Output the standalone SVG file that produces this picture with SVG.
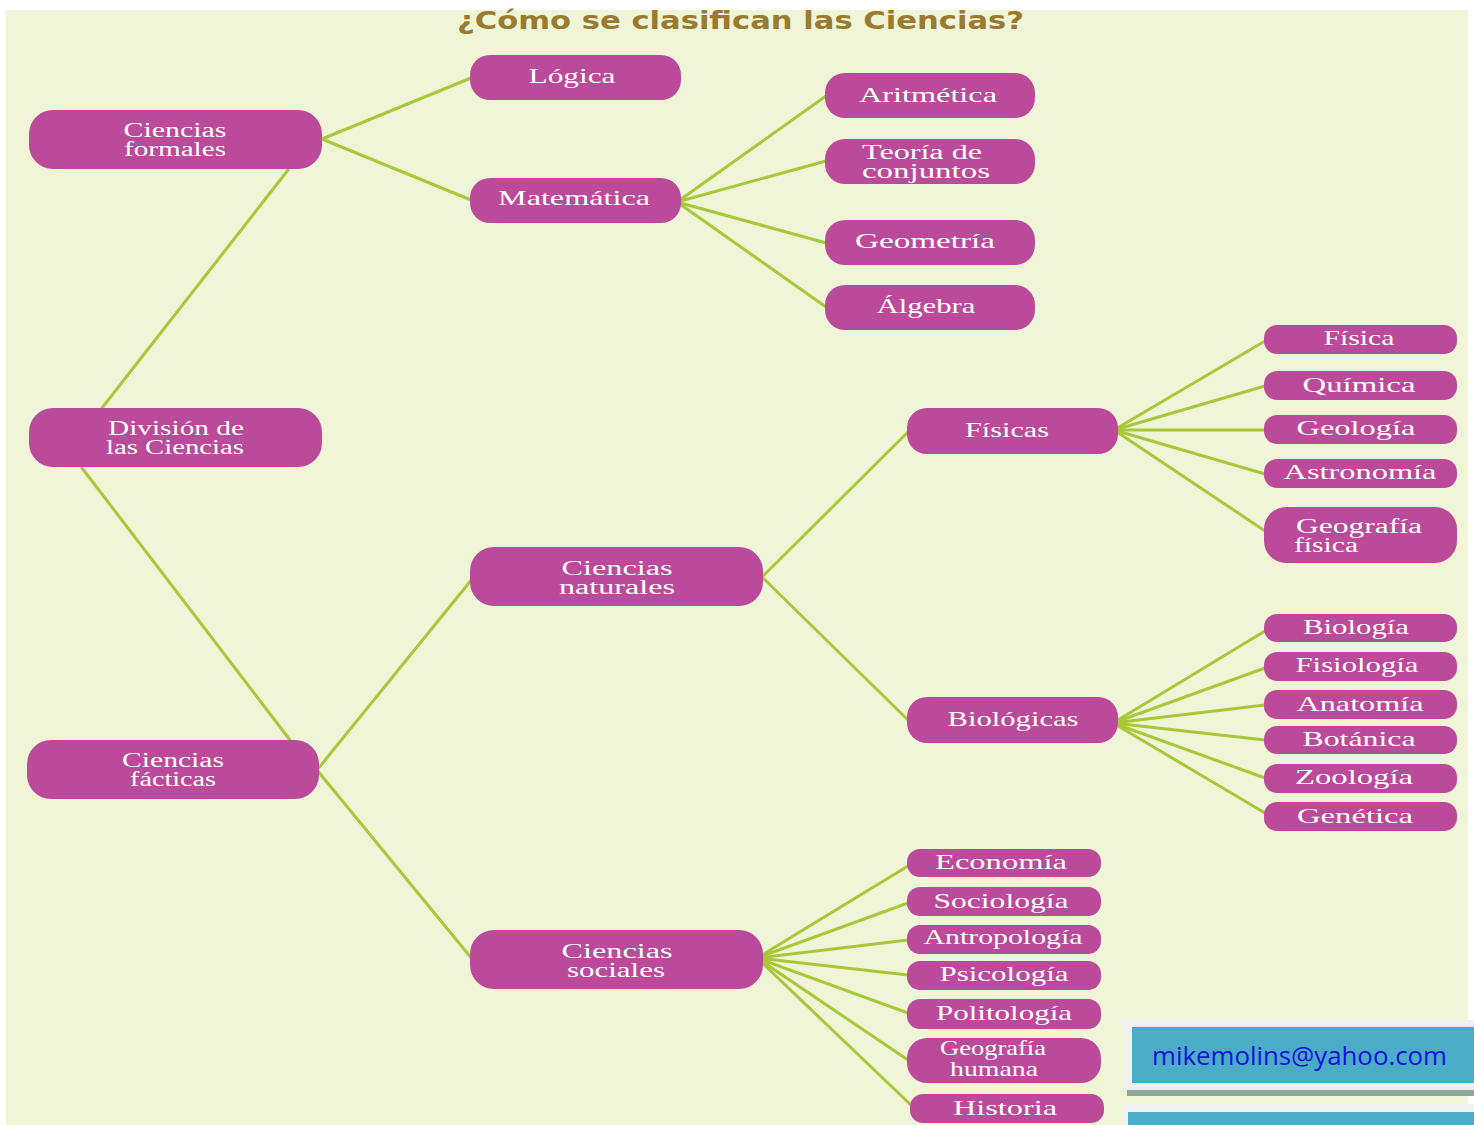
<svg xmlns="http://www.w3.org/2000/svg" width="1474" height="1125" viewBox="0 0 1474 1125">
<style>
.n{fill:#BC4A9B}
.t{fill:#FFFFFF;font-family:"Liberation Serif","DejaVu Serif",serif;font-size:22px;text-anchor:middle}
.d{font-size:20px}
.s{text-anchor:start}
.c line{stroke:#A8C83A;stroke-width:3;stroke-linecap:round}
.title{fill:#9A7A2E;font-family:"DejaVu Sans","Liberation Sans",sans-serif;font-weight:bold;font-size:24px}
</style>
<rect width="1474" height="1125" fill="#FFFFFF"/>
<rect x="6" y="10" width="1462" height="1115" fill="#EFF5D6"/>
<text class="title" x="457" y="29" textLength="567" lengthAdjust="spacingAndGlyphs">¿Cómo se clasifican las Ciencias?</text>
<g id="connectors" class="c">
<line x1="322" y1="139" x2="471" y2="78"/>
<line x1="322" y1="139" x2="471" y2="200"/>
<line x1="288" y1="170" x2="102" y2="408"/>
<line x1="82" y1="468" x2="290" y2="740"/>
<line x1="677" y1="202" x2="826" y2="96"/>
<line x1="677" y1="202" x2="826" y2="161"/>
<line x1="677" y1="202" x2="830" y2="244"/>
<line x1="677" y1="202" x2="826" y2="307"/>
<line x1="317" y1="770" x2="477" y2="573"/>
<line x1="317" y1="770" x2="477" y2="965"/>
<line x1="762" y1="577" x2="908" y2="432"/>
<line x1="762" y1="577" x2="908" y2="720"/>
<line x1="1114" y1="430" x2="1265" y2="341"/>
<line x1="1114" y1="430" x2="1265" y2="386"/>
<line x1="1114" y1="430" x2="1265" y2="430"/>
<line x1="1114" y1="430" x2="1265" y2="474"/>
<line x1="1114" y1="430" x2="1265" y2="531"/>
<line x1="1113" y1="723" x2="1265" y2="631"/>
<line x1="1113" y1="723" x2="1265" y2="668"/>
<line x1="1113" y1="723" x2="1265" y2="705"/>
<line x1="1113" y1="723" x2="1265" y2="740"/>
<line x1="1113" y1="723" x2="1265" y2="778"/>
<line x1="1113" y1="723" x2="1265" y2="813"/>
<line x1="757" y1="958" x2="908" y2="866"/>
<line x1="757" y1="958" x2="908" y2="903"/>
<line x1="757" y1="958" x2="908" y2="940"/>
<line x1="757" y1="958" x2="908" y2="975"/>
<line x1="757" y1="958" x2="908" y2="1013"/>
<line x1="757" y1="958" x2="908" y2="1060"/>
<line x1="757" y1="958" x2="912" y2="1106"/>
</g>
<g id="n-formales"><rect class="n" x="29" y="110" width="293" height="59" rx="24"/><text class="t d" x="175" y="137" textLength="103" lengthAdjust="spacingAndGlyphs">Ciencias</text><text class="t d" x="175" y="156" textLength="102" lengthAdjust="spacingAndGlyphs">formales</text></g>
<g id="n-division"><rect class="n" x="29" y="408" width="293" height="59" rx="24"/><text class="t d" x="176" y="435" textLength="136" lengthAdjust="spacingAndGlyphs">División de</text><text class="t d" x="175" y="454" textLength="138" lengthAdjust="spacingAndGlyphs">las Ciencias</text></g>
<g id="n-facticas"><rect class="n" x="27" y="740" width="292" height="59" rx="24"/><text class="t d" x="173" y="767" textLength="102" lengthAdjust="spacingAndGlyphs">Ciencias</text><text class="t d" x="173" y="786" textLength="86" lengthAdjust="spacingAndGlyphs">fácticas</text></g>
<g id="n-logica"><rect class="n" x="470" y="55" width="211" height="45" rx="20"/><text class="t" x="572" y="83" textLength="87" lengthAdjust="spacingAndGlyphs">Lógica</text></g>
<g id="n-matematica"><rect class="n" x="470" y="178" width="211" height="45" rx="20"/><text class="t" x="574" y="205" textLength="152" lengthAdjust="spacingAndGlyphs">Matemática</text></g>
<g id="n-aritmetica"><rect class="n" x="825" y="73" width="210" height="45" rx="20"/><text class="t" x="928" y="102" textLength="138" lengthAdjust="spacingAndGlyphs">Aritmética</text></g>
<g id="n-conjuntos"><rect class="n" x="825" y="139" width="210" height="45" rx="20"/><text class="t s d" x="862" y="159" textLength="120" lengthAdjust="spacingAndGlyphs">Teoría de</text><text class="t s d" x="862" y="178" textLength="128" lengthAdjust="spacingAndGlyphs">conjuntos</text></g>
<g id="n-geometria"><rect class="n" x="825" y="220" width="210" height="45" rx="20"/><text class="t" x="925" y="248" textLength="140" lengthAdjust="spacingAndGlyphs">Geometría</text></g>
<g id="n-algebra"><rect class="n" x="825" y="285" width="210" height="45" rx="20"/><text class="t" x="926" y="313" textLength="99" lengthAdjust="spacingAndGlyphs">Álgebra</text></g>
<g id="n-naturales"><rect class="n" x="470" y="547" width="293" height="59" rx="24"/><text class="t d" x="617" y="575" textLength="111" lengthAdjust="spacingAndGlyphs">Ciencias</text><text class="t d" x="617" y="594" textLength="116" lengthAdjust="spacingAndGlyphs">naturales</text></g>
<g id="n-sociales"><rect class="n" x="470" y="930" width="293" height="59" rx="24"/><text class="t d" x="617" y="958" textLength="111" lengthAdjust="spacingAndGlyphs">Ciencias</text><text class="t d" x="616" y="977" textLength="98" lengthAdjust="spacingAndGlyphs">sociales</text></g>
<g id="n-fisicas"><rect class="n" x="907" y="408" width="211" height="46" rx="20"/><text class="t" x="1007" y="437" textLength="84" lengthAdjust="spacingAndGlyphs">Físicas</text></g>
<g id="n-biologicas"><rect class="n" x="907" y="697" width="211" height="46" rx="20"/><text class="t" x="1013" y="726" textLength="131" lengthAdjust="spacingAndGlyphs">Biológicas</text></g>
<g id="n-fisica"><rect class="n" x="1264" y="325" width="193" height="29" rx="13"/><text class="t" x="1359" y="345" textLength="71" lengthAdjust="spacingAndGlyphs">Física</text></g>
<g id="n-quimica"><rect class="n" x="1264" y="371" width="193" height="29" rx="13"/><text class="t" x="1359" y="392" textLength="113" lengthAdjust="spacingAndGlyphs">Química</text></g>
<g id="n-geologia"><rect class="n" x="1264" y="415" width="193" height="29" rx="13"/><text class="t" x="1356" y="435" textLength="119" lengthAdjust="spacingAndGlyphs">Geología</text></g>
<g id="n-astronomia"><rect class="n" x="1264" y="459" width="193" height="29" rx="13"/><text class="t" x="1360" y="479" textLength="153" lengthAdjust="spacingAndGlyphs">Astronomía</text></g>
<g id="n-geofisica"><rect class="n" x="1264" y="507" width="193" height="56" rx="22"/><text class="t s d" x="1296" y="533" textLength="126" lengthAdjust="spacingAndGlyphs">Geografía</text><text class="t s d" x="1294" y="552" textLength="64" lengthAdjust="spacingAndGlyphs">física</text></g>
<g id="n-biologia"><rect class="n" x="1264" y="614" width="193" height="28" rx="13"/><text class="t" x="1356" y="634" textLength="106" lengthAdjust="spacingAndGlyphs">Biología</text></g>
<g id="n-fisiologia"><rect class="n" x="1264" y="652" width="193" height="29" rx="13"/><text class="t" x="1357" y="672" textLength="123" lengthAdjust="spacingAndGlyphs">Fisiología</text></g>
<g id="n-anatomia"><rect class="n" x="1264" y="690" width="193" height="29" rx="13"/><text class="t" x="1360" y="711" textLength="127" lengthAdjust="spacingAndGlyphs">Anatomía</text></g>
<g id="n-botanica"><rect class="n" x="1264" y="726" width="193" height="28" rx="13"/><text class="t" x="1359" y="746" textLength="113" lengthAdjust="spacingAndGlyphs">Botánica</text></g>
<g id="n-zoologia"><rect class="n" x="1264" y="764" width="193" height="29" rx="13"/><text class="t" x="1354" y="784" textLength="118" lengthAdjust="spacingAndGlyphs">Zoología</text></g>
<g id="n-genetica"><rect class="n" x="1264" y="802" width="193" height="29" rx="13"/><text class="t" x="1355" y="823" textLength="116" lengthAdjust="spacingAndGlyphs">Genética</text></g>
<g id="n-economia"><rect class="n" x="907" y="849" width="194" height="28" rx="13"/><text class="t" x="1001" y="869" textLength="132" lengthAdjust="spacingAndGlyphs">Economía</text></g>
<g id="n-sociologia"><rect class="n" x="907" y="887" width="194" height="29" rx="13"/><text class="t" x="1001" y="908" textLength="135" lengthAdjust="spacingAndGlyphs">Sociología</text></g>
<g id="n-antropologia"><rect class="n" x="907" y="925" width="194" height="29" rx="13"/><text class="t" x="1003" y="944" textLength="159" lengthAdjust="spacingAndGlyphs">Antropología</text></g>
<g id="n-psicologia"><rect class="n" x="907" y="961" width="194" height="29" rx="13"/><text class="t" x="1004" y="981" textLength="129" lengthAdjust="spacingAndGlyphs">Psicología</text></g>
<g id="n-politologia"><rect class="n" x="907" y="999" width="194" height="30" rx="13"/><text class="t" x="1004" y="1020" textLength="136" lengthAdjust="spacingAndGlyphs">Politología</text></g>
<g id="n-geohumana"><rect class="n" x="907" y="1038" width="194" height="45" rx="20"/><text class="t" x="993" y="1055" font-size="18" textLength="106" lengthAdjust="spacingAndGlyphs">Geografía</text><text class="t" x="994" y="1076" font-size="18" textLength="88" lengthAdjust="spacingAndGlyphs">humana</text></g>
<g id="n-historia"><rect class="n" x="910" y="1094" width="194" height="29" rx="13"/><text class="t" x="1005" y="1115" textLength="104" lengthAdjust="spacingAndGlyphs">Historia</text></g>
<g id="email">
<rect x="1127" y="1090" width="347" height="6" fill="#8FA89A"/>
<rect x="1124" y="1020" width="350" height="70" fill="#F0F0F0"/>
<rect x="1132" y="1027" width="342" height="56" fill="#4BACC6"/>
<text x="1152" y="1065" fill="#1212E0" font-family="'Open Sans','Liberation Sans',sans-serif" font-size="26" textLength="295" lengthAdjust="spacingAndGlyphs">mikemolins@yahoo.com</text>
<rect x="1124" y="1104" width="350" height="21" fill="#F0F0F0"/>
<rect x="1128" y="1112" width="346" height="13" fill="#4BACC6"/>
</g>
</svg>
